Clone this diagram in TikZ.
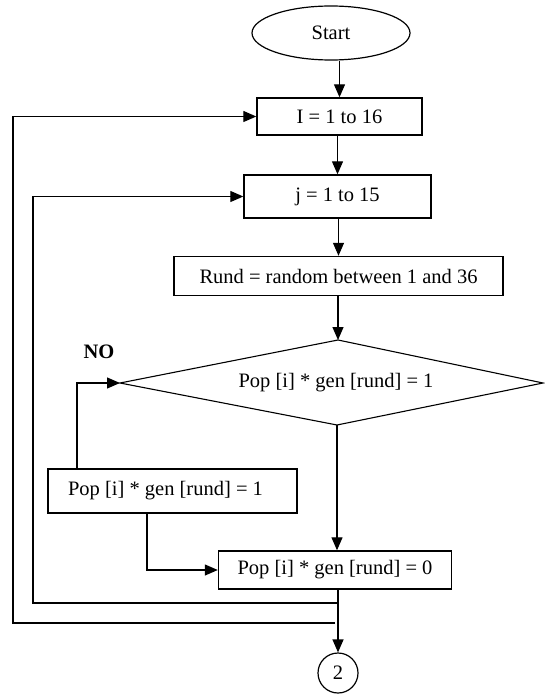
\documentclass[tikz,border=0pt]{standalone}
\usepackage{fontspec}
\setmainfont{Liberation Serif}
\usetikzlibrary{shapes.geometric,arrows.meta,calc}
\begin{document}
\begin{tikzpicture}[x=1pt,y=-1pt,
  every node/.style={font=\fontsize{20.5}{23}\selectfont, inner sep=0pt},
  procbox/.style={draw, line width=1.4pt, rectangle},
  arr/.style={line width=1.2pt, -{Triangle[length=13pt,width=11pt]}},
  ln/.style={line width=1.2pt}]
\useasboundingbox (0,0) rectangle (545,695);
% nodes
\node[draw, line width=1.2pt, ellipse, minimum width=158pt, minimum height=54pt] (start) at (331,33) {Start};
\node[procbox, minimum width=165pt, minimum height=37pt] (I) at (339.5,116.5) {I = 1 to 16};
\node[procbox, minimum width=187pt, minimum height=43pt] (j) at (337.5,196.5) {j = 1 to 15};
\node[procbox, minimum width=329pt, minimum height=39pt] (rund) at (338.5,276) {Rund = random between 1 and 36};
\coordinate (dtop) at (338,340);
\coordinate (dleft) at (120,383);
\coordinate (dright) at (543,383);
\coordinate (dbot) at (337,425);
\draw[line width=1.1pt] (dtop) -- (dright) -- (dbot) -- (dleft) -- cycle;
\node (dtext) at (336,383) {Pop [i] * gen [rund] = 1};
\node[font=\fontsize{20.5}{23}\selectfont\bfseries] (no) at (99,352) {NO};
\node[procbox, minimum width=249pt, minimum height=44pt] (pop1) at (172.5,491) {\hspace*{-14pt}Pop [i] * gen [rund] = 1};
\node[procbox, minimum width=233pt, minimum height=38pt] (pop0) at (335,570) {Pop [i] * gen [rund] = 0};
\node[draw, line width=1.2pt, circle, minimum size=40pt] (c2) at (338,673) {2};
% connectors
\draw[arr] (start.south -| I.north) -- (I.north);
\draw[arr] (I.south -| j.north) -- (j.north);
\draw[arr] (j.south -| rund.north) -- (rund.north);
\draw[arr] (rund.south -| dtop) -- (dtop);
\draw[arr] (dbot) -- (dbot |- pop0.north);
\coordinate (p1up) at (77,469);
\draw[arr] (p1up) |- (dleft);
\coordinate (p1dn) at (147,513);
\draw[arr] (p1dn) |- (pop0.west);
\draw[arr] (pop0.south -| c2) -- (c2.north);
\coordinate (l1) at (338,603);
\coordinate (ib) at (33,603);
\draw[arr] (l1) -- (ib) |- (j.west);
\coordinate (l2) at (335,623);
\coordinate (ob) at (13,623);
\draw[arr] (l2) -- (ob) |- (I.west);
\end{tikzpicture}
\end{document}
